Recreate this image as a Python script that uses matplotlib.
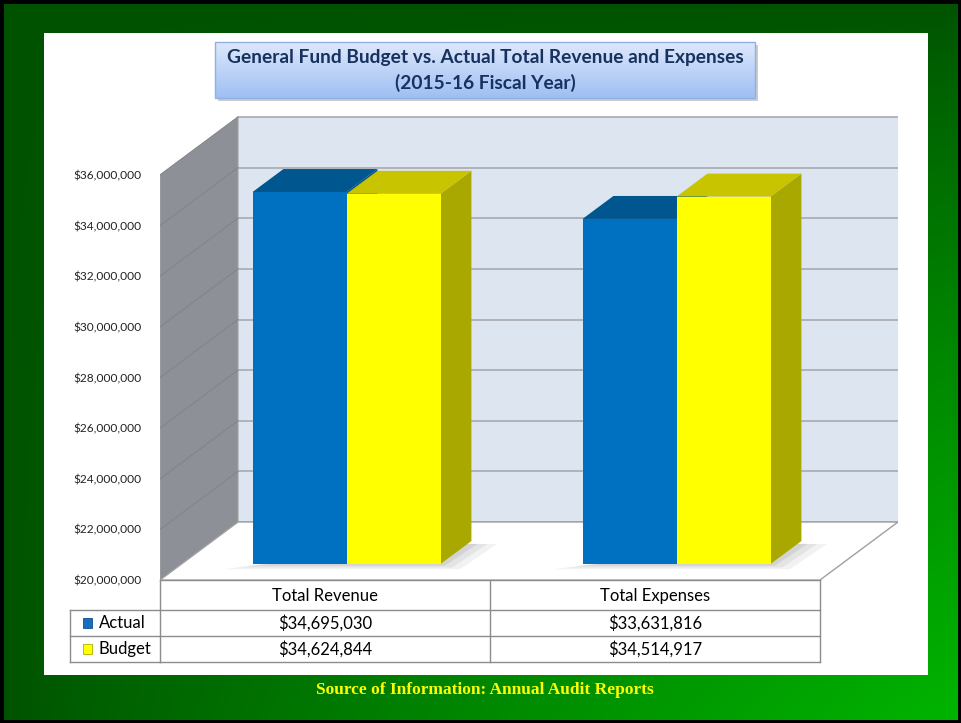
import numpy as np
import matplotlib
matplotlib.use('Agg')
import matplotlib.pyplot as plt
from matplotlib.patches import Polygon, Rectangle
from matplotlib.transforms import blended_transform_factory

# ---------------- data ----------------
categories = ['Total Revenue', 'Total Expenses']
series_names = ['Actual', 'Budget']
actual = [34695030, 33631816]
budget = [34624844, 34514917]
ytick_values = [20000000, 22000000, 24000000, 26000000, 28000000,
                30000000, 32000000, 34000000, 36000000]
title_lines = ['General Fund Budget vs. Actual Total Revenue and Expenses',
               '(2015-16 Fiscal Year)']
source_text = 'Source of Information: Annual Audit Reports'

plt.rcParams['font.family'] = ['Lato', 'DejaVu Sans']

W, H = 961, 723
fig = plt.figure(figsize=(W / 100, H / 100), dpi=100)

# ---------------- background (pixel coords) ----------------
bg = fig.add_axes([0, 0, 1, 1])
bg.set_xlim(0, W)
bg.set_ylim(H, 0)
bg.axis('off')

yy, xx = np.mgrid[0:H, 0:W]
t = (xx / W) * (yy / H)
t = np.clip(t, 0, 1) ** 0.85
dark = np.array([0.0, 0.32, 0.0])
bright = np.array([0.0, 0.71, 0.0])
img = dark[None, None, :] + (bright - dark)[None, None, :] * t[..., None]
bg.imshow(img, extent=(0, W, H, 0), aspect='auto', zorder=0)
bg.add_patch(Rectangle((0, 0), W, H, fill=False, ec='black', lw=5, zorder=1))

# white panel
bg.add_patch(Rectangle((44, 33), 884, 642, fc='white', ec='none', zorder=1))

# title box
bg.add_patch(Rectangle((218, 45), 540, 56, fc='#9a9a9a', ec='none', alpha=0.5, zorder=2))
grad = np.linspace(0, 1, 100)[:, None]
top_c = np.array([0.87, 0.91, 0.99])
bot_c = np.array([0.62, 0.75, 0.95])
timg = top_c[None, None, :] + (bot_c - top_c)[None, None, :] * grad[..., None]
timg = np.repeat(timg, 2, axis=1)
bg.imshow(timg, extent=(215, 755, 98, 42), aspect='auto', zorder=3)
bg.add_patch(Rectangle((215, 42), 540, 56, fill=False, ec='#8fb0e3', lw=1, zorder=4))
bg.text(485, 57, title_lines[0], ha='center', va='center', fontsize=13.8,
        fontweight='bold', color='#17325e', zorder=5)
bg.text(485, 83, title_lines[1], ha='center', va='center', fontsize=13.8,
        fontweight='bold', color='#17325e', zorder=5)

# footer
bg.text(485, 690, source_text, ha='center', va='center', fontsize=12.5,
        fontweight='bold', color='#ffff00', family='Liberation Serif', zorder=5)

# ---------------- chart axes ----------------
L, R, T, B = 160, 898, 115, 580
ax = fig.add_axes([L / W, (H - B) / H, (R - L) / W, (B - T) / H])
ax.patch.set_visible(False)
for s in ax.spines.values():
    s.set_visible(False)
px_per_cat = 330.0
px_per_val = 405.0 / 16e6
ymin = ytick_values[0]
ax.set_xlim(-0.5, -0.5 + (R - L) / px_per_cat)
ax.set_ylim(ymin, ymin + (B - T) / px_per_val)

DX = 78 / px_per_cat
DY = 58 / px_per_val
ymax = ytick_values[-1]
x0, x1 = -0.5, len(categories) - 0.5


def P(x, y, f):
    return (x + f * DX, y + f * DY)


# back wall
ax.add_patch(Polygon([P(x0, ymin, 1), P(x1, ymin, 1), P(x1, ymax, 1), P(x0, ymax, 1)],
                     closed=True, fc='#dde5f0', ec='none', zorder=1))
# side wall
ax.add_patch(Polygon([P(x0, ymin, 0), P(x0, ymax, 0), P(x0, ymax, 1), P(x0, ymin, 1)],
                     closed=True, fc='#8d9197', ec='#a0a0a0', lw=0.8, zorder=1))
# gridlines
for v in ytick_values:
    a, b = P(x0, v, 1), P(x1, v, 1)
    ax.plot([a[0], b[0]], [a[1], b[1]], color='#a3a6aa', lw=1.1, zorder=2)
    c, d = P(x0, v, 0), P(x0, v, 1)
    ax.plot([c[0], d[0]], [c[1], d[1]], color='#80848a', lw=0.7, zorder=2)
# floor
ax.add_patch(Polygon([P(x0, ymin, 0), P(x1, ymin, 0), P(x1, ymin, 1), P(x0, ymin, 1)],
                     closed=True, fc='white', ec='#a0a0a0', lw=1.0, zorder=2))

# bars
w = 94 / px_per_cat
f0, f1 = 0.276, 0.672
styles = [
    dict(front='#0070c0', top='#00568f', side='#00508a'),
    dict(front='#ffff00', top='#c8c400', side='#a9a800'),
]
series = [actual, budget]
for i in range(len(categories)):
    # soft shadow on floor
    left_all = i - w
    right_all = i + w
    for k, a in enumerate([0.10, 0.12, 0.16]):
        g = 0.03 * (2 - k)
        sh = [P(left_all - 0.01 - g, ymin, f0 - 0.03 - g),
              P(right_all + 0.02 + g, ymin, f0 - 0.03 - g),
              P(right_all + 0.03 + g, ymin, f1 - 0.05),
              P(right_all - 0.02, ymin, f1 - 0.05)]
        ax.add_patch(Polygon(sh, closed=True, fc='#808080', ec='none', alpha=a, zorder=3))
    for j, vals in enumerate(series):
        v = vals[i]
        st = styles[j]
        left = i - w + j * w
        right = left + w
        side = [P(right, ymin, f0), P(right, ymin, f1), P(right, v, f1), P(right, v, f0)]
        top = [P(left, v, f0), P(right, v, f0), P(right, v, f1), P(left, v, f1)]
        front = [P(left, ymin, f0), P(right, ymin, f0), P(right, v, f0), P(left, v, f0)]
        ax.add_patch(Polygon(side, closed=True, fc=st['side'], ec='none', zorder=4 + j))
        ax.add_patch(Polygon(top, closed=True, fc=st['top'], ec='none', zorder=4 + j))
        ax.add_patch(Polygon(front, closed=True, fc=st['front'], ec='none', zorder=4 + j))

ax.set_xticks([])
ax.set_yticks(ytick_values)
ax.set_yticklabels(['${:,.0f}'.format(v) for v in ytick_values])
ax.tick_params(axis='y', length=0, pad=13, labelsize=8.6, labelcolor='#222222')

# ---------------- data table ----------------
tr = blended_transform_factory(ax.transData, bg.transData)
row_y = [580, 610, 636, 662]
leg_left = 70
line_kw = dict(color='#8c8c8c', lw=1.0, zorder=6)
col_edges = [x0 + k for k in range(len(categories) + 1)]
for xe in col_edges:
    bg.plot([xe, xe], [row_y[0], row_y[-1]], transform=tr, **line_kw)
bg.plot([x0, x1], [row_y[0], row_y[0]], transform=tr, **line_kw)
for ry in row_y[1:]:
    bg.plot([leg_left, 160], [ry, ry], **line_kw)
    bg.plot([x0, x1], [ry, ry], transform=tr, **line_kw)
bg.plot([leg_left, leg_left], [row_y[1], row_y[-1]], **line_kw)

for i, cat in enumerate(categories):
    bg.text(i, (row_y[0] + row_y[1]) / 2 + 1, cat, transform=tr, ha='center',
            va='center', fontsize=12, color='black', zorder=7)
    for j, vals in enumerate(series):
        cy = (row_y[j + 1] + row_y[j + 2]) / 2
        bg.text(i, cy, '${:,.0f}'.format(vals[i]), transform=tr, ha='center',
                va='center', fontsize=12, color='black', zorder=7)

key_colors = [('#1a6cc0', '#0a4f90'), ('#ffff00', '#b0b000')]
for j, name in enumerate(series_names):
    cy = (row_y[j + 1] + row_y[j + 2]) / 2
    fc, ec = key_colors[j]
    bg.add_patch(Rectangle((83, cy - 5), 9, 10, fc=fc, ec=ec, lw=0.6, zorder=7))
    bg.text(99, cy, name, ha='left', va='center', fontsize=12, color='black', zorder=7)

fig.savefig('out.png', dpi=100)
